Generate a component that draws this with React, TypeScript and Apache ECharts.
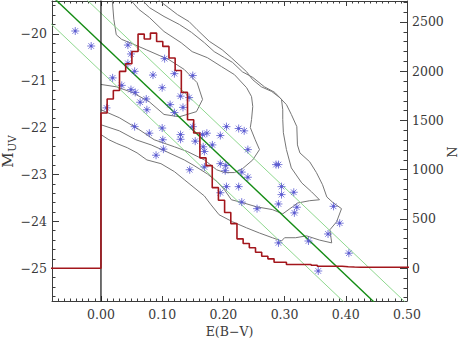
import React, { useEffect, useRef } from 'react';
import * as echarts from 'echarts';

// ---- tick labels ----
const xTicks = [0, 0.1, 0.2, 0.3, 0.4, 0.5];
const muvTicks = [-25, -24, -23, -22, -21, -20];
const nTicks = [0, 500, 1000, 1500, 2000, 2500];

// ---- histogram (red), bins starting at E(B-V)=0 ----
const binWidth = 0.0101;
const histRed = [
  1576, 1718, 1805, 1998, 2076, 2201, 2377, 2327, 2387, 2302,
  2252, 2134, 2008, 1785, 1508, 1373, 1120, 1042, 818, 690,
  565, 453, 298, 251, 207, 162, 122, 95, 61, 61,
  38, 38, 38, 38, 30, 20, 20, 20, 20, 15,
  12, 10, 10, 10, 10, 10, 10, 10, 10, 10,
];

// ---- individual objects: [E(B-V), M_UV] ----
const stars = [
  [-0.042, -19.94], [-0.016, -20.26], [0.044, -20.24], [0.049, -20.43], [0.044, -20.63],
  [0.055, -20.8], [0.085, -20.88], [0.019, -20.94], [0.104, -20.53], [0.1, -21.15],
  [0.034, -21.1], [0.049, -21.19], [0.056, -21.25], [0.074, -21.39], [0.064, -21.46],
  [0.075, -21.62], [0.009, -21.58], [0.055, -21.98], [0.079, -22.12], [0.1, -22.01],
  [0.101, -22.26], [0.12, -20.85], [0.15, -20.89], [0.13, -21.33], [0.144, -21.36],
  [0.113, -21.51], [0.134, -21.57], [0.12, -21.68], [0.15, -21.98], [0.173, -22.12],
  [0.195, -22.17], [0.205, -21.98], [0.225, -22.02], [0.234, -22.07], [0.13, -22.15],
  [0.13, -22.25], [0.154, -22.29], [0.166, -22.15], [0.182, -22.37], [0.102, -22.46],
  [0.24, -22.47], [0.09, -22.59], [0.169, -22.51], [0.167, -22.41], [0.195, -22.77],
  [0.204, -22.81], [0.145, -22.9], [0.286, -22.79], [0.29, -22.79], [0.203, -22.92],
  [0.23, -22.95], [0.24, -23.06], [0.205, -23.26], [0.225, -23.26], [0.195, -23.39],
  [0.295, -23.26], [0.295, -23.43], [0.315, -23.38], [0.29, -23.63], [0.32, -23.7],
  [0.316, -23.82], [0.23, -23.59], [0.255, -23.73], [0.29, -24.46], [0.339, -24.42],
  [0.355, -25.06], [0.38, -23.68], [0.39, -24.04], [0.371, -24.27], [0.405, -24.68],
  [0.169, -22.84],
];

// ---- density contours: [E(B-V), M_UV] ----
const contour1 = [
  [0.018, -19.2], [0.021, -19.69], [0.025, -20.02], [0.034, -20.12], [0.051, -20.21],
  [0.074, -20.34], [0.095, -20.46], [0.111, -20.55], [0.136, -20.76], [0.157, -21.04],
  [0.166, -21.4], [0.156, -21.66], [0.128, -21.77], [0.103, -21.72], [0.079, -21.45],
  [0.051, -21.25], [0.025, -21.13], [0.0, -21.08],
];
const contour2 = [
  [0.043, -19.2], [0.062, -19.48], [0.079, -19.65], [0.103, -19.95], [0.131, -20.19],
  [0.149, -20.38], [0.174, -20.51], [0.197, -20.7], [0.218, -20.87], [0.238, -21.15],
  [0.246, -21.34], [0.248, -21.55], [0.246, -21.83], [0.244, -22.0], [0.252, -22.26],
  [0.259, -22.47], [0.248, -22.69], [0.231, -22.88], [0.218, -22.96], [0.202, -22.96],
  [0.189, -22.9], [0.169, -22.69], [0.141, -22.51], [0.12, -22.41], [0.087, -22.26],
  [0.062, -22.04], [0.03, -21.79], [0.0, -21.62],
];
const contour3 = [
  [0.062, -19.2], [0.079, -19.44], [0.103, -19.63], [0.128, -19.8], [0.148, -19.97],
  [0.169, -20.19], [0.185, -20.38], [0.202, -20.51], [0.215, -20.61], [0.231, -20.81],
  [0.248, -20.93], [0.267, -21.13], [0.284, -21.25], [0.295, -21.4], [0.297, -21.62],
  [0.297, -21.83], [0.298, -22.11], [0.303, -22.47], [0.311, -22.86], [0.328, -23.18],
  [0.344, -23.37], [0.357, -23.54], [0.341, -23.56], [0.321, -23.61], [0.313, -23.69],
  [0.297, -23.84], [0.28, -23.75], [0.254, -23.69], [0.231, -23.6], [0.213, -23.54],
  [0.202, -23.33], [0.19, -23.16], [0.174, -22.99], [0.152, -22.81], [0.136, -22.69],
  [0.108, -22.52], [0.082, -22.37], [0.057, -22.26], [0.03, -22.07], [0.0, -21.94],
];
const contour4 = [
  [0.087, -19.2], [0.103, -19.37], [0.125, -19.59], [0.144, -19.74], [0.157, -19.91],
  [0.177, -20.16], [0.198, -20.34], [0.213, -20.51], [0.238, -20.81], [0.248, -20.98],
  [0.262, -21.13], [0.279, -21.23], [0.292, -21.36], [0.303, -21.51], [0.311, -21.72],
  [0.32, -21.98], [0.321, -22.37], [0.325, -22.54], [0.341, -22.73], [0.352, -22.96],
  [0.362, -23.22], [0.369, -23.48], [0.379, -23.6], [0.393, -23.73], [0.385, -24.01],
  [0.374, -24.18], [0.377, -24.46], [0.357, -24.4], [0.336, -24.31], [0.318, -24.35],
  [0.3, -24.35], [0.295, -24.42], [0.28, -24.35], [0.259, -24.25], [0.238, -24.14],
  [0.215, -24.01], [0.193, -23.86], [0.18, -23.65], [0.169, -23.46], [0.152, -23.28],
  [0.136, -23.11], [0.12, -22.94], [0.098, -22.77], [0.075, -22.69], [0.059, -22.54],
  [0.043, -22.43], [0.026, -22.34], [0.013, -22.26], [0.0, -22.15],
];

// ---- straight lines: [E(B-V), M_UV] endpoints ----
const fitLine = [[-0.1, -18.95], [0.55, -27.01]];
const fitUpper = [[-0.1, -18.32], [0.55, -26.38]];
const fitLower = [[-0.1, -19.56], [0.55, -27.62]];
const zeroLine = [[0, -19.0], [0, -26.0]];

const FONT = '"DejaVu Serif", "Liberation Serif", serif';
const TXT = '#3a3a3a';
const AX = '#3c3c3c';

function steps(a: number, b: number, step: number, dec: number) {
  const out: number[] = [];
  const n = Math.round((b - a) / step);
  for (let i = 0; i <= n; i++) out.push(+(a + i * step).toFixed(dec));
  return out;
}

const X_MIN = -0.08, X_MAX = 0.5;
const Y_MIN = -25.7, Y_MAX = -19.3;
const N_MIN = -333, N_MAX = 2713;

export default function App() {
  const ref = useRef<HTMLDivElement>(null);
  useEffect(() => {
    if (!ref.current) return;
    const chart = echarts.init(ref.current, null, { renderer: 'svg' });

    const xMinor = steps(-0.08, 0.5, 0.01, 2);
    const yMinor = steps(-25.6, -19.4, 0.2, 1);
    const nMinor = steps(-300, 2700, 100, 0);

    const redData: number[][] = [[-0.1, 0]];
    histRed.forEach((v, i) => redData.push([+(i * binWidth).toFixed(4), v]));
    redData.push([+(histRed.length * binWidth).toFixed(4), histRed[histRed.length - 1]]);

    const labelStyle = { color: TXT, fontFamily: FONT, fontSize: 12.5 };

    const xAxisBase = (position: string, ticks: number[], len: number, showLine: boolean, showLabel: boolean) => ({
      type: 'value', min: X_MIN, max: X_MAX, position,
      axisLine: { show: showLine, onZero: false, lineStyle: { color: AX, width: 1 } },
      axisTick: { show: true, inside: true, length: len, customValues: ticks, lineStyle: { color: AX, width: 1 } },
      axisLabel: showLabel
        ? { show: true, customValues: ticks, margin: 7, formatter: (v: number) => v.toFixed(2), ...labelStyle }
        : { show: false },
      splitLine: { show: false },
    });

    const yAxisBase = (position: string, min: number, max: number, ticks: number[], len: number, showLine: boolean, fmt: any) => ({
      type: 'value', min, max, position,
      axisLine: { show: showLine, onZero: false, lineStyle: { color: AX, width: 1 } },
      axisTick: { show: true, inside: true, length: len, customValues: ticks, lineStyle: { color: AX, width: 1 } },
      axisLabel: fmt
        ? { show: true, customValues: ticks, margin: 5, formatter: fmt, ...labelStyle }
        : { show: false },
      splitLine: { show: false },
    });

    const xAxes: any[] = [
      xAxisBase('bottom', xTicks, 5, true, true),
      xAxisBase('bottom', xMinor, 2.5, false, false),
      xAxisBase('top', xTicks, 5, true, false),
      xAxisBase('top', xMinor, 2.5, false, false),
    ];
    const yAxes: any[] = [
      yAxisBase('left', Y_MIN, Y_MAX, muvTicks, 7, true, (v: number) => '\u2212' + Math.abs(v)),
      yAxisBase('right', N_MIN, N_MAX, nTicks, 7, true, (v: number) => String(v)),
      yAxisBase('left', Y_MIN, Y_MAX, yMinor, 3.5, false, null),
      yAxisBase('right', N_MIN, N_MAX, nMinor, 3.5, false, null),
    ];

    const contourSeries = [contour1, contour2, contour3, contour4].map((c) => ({
      type: 'line', data: c, xAxisIndex: 0, yAxisIndex: 0, symbol: 'none', smooth: false,
      lineStyle: { color: '#767676', width: 1 }, z: 2, silent: true,
    }));

    const straight = (d: number[][], color: string, width: number, z: number) => ({
      type: 'line', data: d, xAxisIndex: 0, yAxisIndex: 0, symbol: 'none',
      lineStyle: { color, width }, z, silent: true,
    });

    const titleFont = (size: number) => size + 'px ' + FONT;
    const centered = { textAlign: 'center', textVerticalAlign: 'middle', align: 'center', verticalAlign: 'middle' };

    chart.setOption({
      animation: false,
      backgroundColor: '#ffffff',
      grid: { left: 52, top: 1, width: 355, height: 300, containLabel: false, outerBoundsMode: 'none' },
      xAxis: xAxes,
      yAxis: yAxes,
      graphic: [
        { type: 'text', x: 229.5, y: 331.5, style: { text: 'E(B\u2212V)', font: titleFont(12.5), fill: TXT, ...centered } },
        { type: 'text', x: 7.5, y: 160, rotation: Math.PI / 2, style: { text: 'M', font: titleFont(15), fill: TXT, ...centered } },
        { type: 'text', x: 11.5, y: 143.5, rotation: Math.PI / 2, style: { text: 'UV', font: titleFont(10.5), fill: TXT, ...centered } },
        { type: 'text', x: 452, y: 152, rotation: Math.PI / 2, style: { text: 'N', font: titleFont(13), fill: TXT, ...centered } },
      ],
      series: [
        ...contourSeries,
        straight(fitUpper, '#8fd88f', 1, 3),
        straight(fitLower, '#8fd88f', 1, 3),
        straight(fitLine, '#148c14', 1.4, 3),
        {
          type: 'scatter', data: stars, xAxisIndex: 0, yAxisIndex: 0, z: 4,
          symbol: 'path://M5 0L5 10M0 5L10 5M1.5 1.5L8.5 8.5M1.5 8.5L8.5 1.5M4 4L6 4L6 6L4 6Z',
          symbolSize: 8,
          itemStyle: { color: '#1c1c7c', borderColor: '#5c5cd2', borderWidth: 1 },
          silent: true,
        },
        straight(zeroLine, '#111111', 1.2, 5),
        {
          type: 'line', data: redData, xAxisIndex: 0, yAxisIndex: 1, step: 'end', symbol: 'none',
          lineStyle: { color: '#a3161c', width: 1.6 }, z: 6, silent: true,
        },
      ],
    });
    return () => chart.dispose();
  }, []);
  return <div ref={ref} style={{ position: 'fixed', left: 0, top: 0, width: 458, height: 340, background: '#fff' }} />;
}
